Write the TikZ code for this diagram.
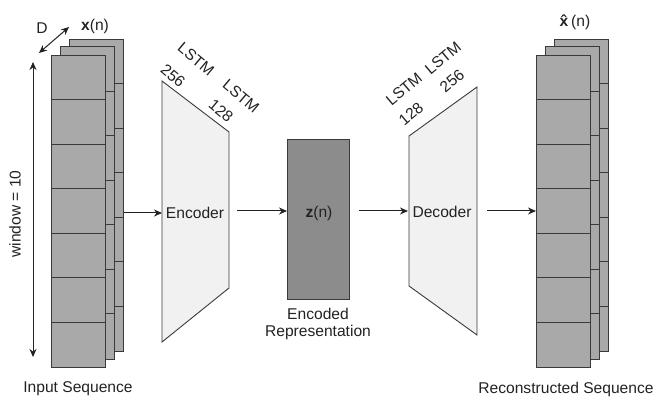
\documentclass[tikz,border=0pt]{standalone}
\usepackage{fontspec}
\setmainfont{Liberation Sans}
\usetikzlibrary{arrows.meta}
\definecolor{cellgray}{HTML}{A9A9A9}
\definecolor{zgray}{HTML}{8C8C8C}
\definecolor{trapfill}{HTML}{F1F1F1}
\definecolor{lineclr}{HTML}{3A3A3A}
\definecolor{txtclr}{HTML}{222222}
\begin{document}
\begin{tikzpicture}[x=1pt,y=-1pt,
  font=\fontsize{15.6}{17.5}\selectfont, text=txtclr,
  layer/.style={draw=lineclr, line width=0.9pt, fill=cellgray, minimum width=54pt, minimum height=312pt, inner sep=0pt, anchor=north west},
  cellline/.style={draw=lineclr, line width=0.9pt},
  trap/.style={draw=lineclr, line width=0.9pt, fill=trapfill},
  conn/.style={draw=txtclr, line width=1pt, -{Stealth[length=8pt,width=7pt]}},
  dconn/.style={draw=txtclr, line width=1pt, {Stealth[length=8pt,width=7pt]}-{Stealth[length=8pt,width=7pt]}},
  lbl/.style={inner sep=0pt}
]
\useasboundingbox (0,0) rectangle (656,403);

% ---- input stack ----
\foreach \nm/\lx/\ty in {inC/69/39, inB/60/46.5, inA/51/55}{
  \node[layer] (\nm) at (\lx,\ty) {};
  \foreach \k in {1,...,6}
    \draw[cellline] (\lx,\ty+44.57*\k) -- (\lx+54,\ty+44.57*\k);
}
% ---- output stack ----
\foreach \nm/\lx/\ty in {outC/554/39, outB/545/46.5, outA/536/55}{
  \node[layer] (\nm) at (\lx,\ty) {};
  \foreach \k in {1,...,6}
    \draw[cellline] (\lx,\ty+44.57*\k) -- (\lx+54,\ty+44.57*\k);
}

% ---- labels input ----
\node[lbl] (xn) at (95,26) {\textbf{x}(n)};
\node[lbl] (dlab) at (42,28) {D};
\coordinate (dA) at (39,53);
\coordinate (dB) at (69,27);
\draw[dconn] (dA) -- (dB);
\coordinate (wTop) at (33,62);
\coordinate (wBot) at (33,357);
\draw[dconn] (wBot) -- (wTop);
\node[lbl, rotate=90] (win) at (15,214) {window = 10};
\node[lbl] (inlab) at (78,389) {Input Sequence};

% ---- encoder ----
\path[trap] (162,81) -- (229,132) -- (229,288) -- (162,342) -- cycle;
\node[lbl] (enc) at (195,213) {Encoder};
\coordinate (encIn) at (162,213);
\coordinate (encOut) at (237,211);
\node[lbl, rotate=-40] (e1) at (196,59) {LSTM};
\node[lbl, rotate=-40] (e2) at (173,76) {256};
\node[lbl, rotate=-40] (e3) at (241,96) {LSTM};
\node[lbl, rotate=-40] (e4) at (221,111) {128};

% ---- latent ----
\node[draw=lineclr, line width=0.9pt, fill=zgray, minimum width=62pt, minimum height=160pt, anchor=north west, inner sep=0pt] (zbox) at (287,139) {};
\node[lbl] (zn) at (319,213) {\textbf{z}(n)};
\node[lbl, align=center] (zlab) at (318,324) {Encoded\\[0pt]Representation};

% ---- decoder ----
\path[trap] (409,136) -- (477,87) -- (477,335) -- (409,286) -- cycle;
\node[lbl] (dec) at (442,212) {Decoder};
\coordinate (decIn) at (408,211);
\coordinate (decOut) at (487,211);
\node[lbl, rotate=40] (d1) at (404,89) {LSTM};
\node[lbl, rotate=40] (d2) at (411,114) {128};
\node[lbl, rotate=40] (d3) at (443,58) {LSTM};
\node[lbl, rotate=40] (d4) at (452,81) {256};

% ---- output labels ----
\node[lbl] (xhat) at (575,22) {\textbf{\^{x}}(n)};
\node[lbl] (outlab) at (566,389) {Reconstructed Sequence};

% ---- connectors ----
\draw[conn] (inC.east |- encIn) -- (encIn);
\draw[conn] (encOut) -- (zbox.west |- encOut);
\draw[conn] ([xshift=9pt]zbox.east |- decIn) -- (decIn);
\draw[conn] (decOut) -- (outA.west |- decOut);
\end{tikzpicture}
\end{document}
